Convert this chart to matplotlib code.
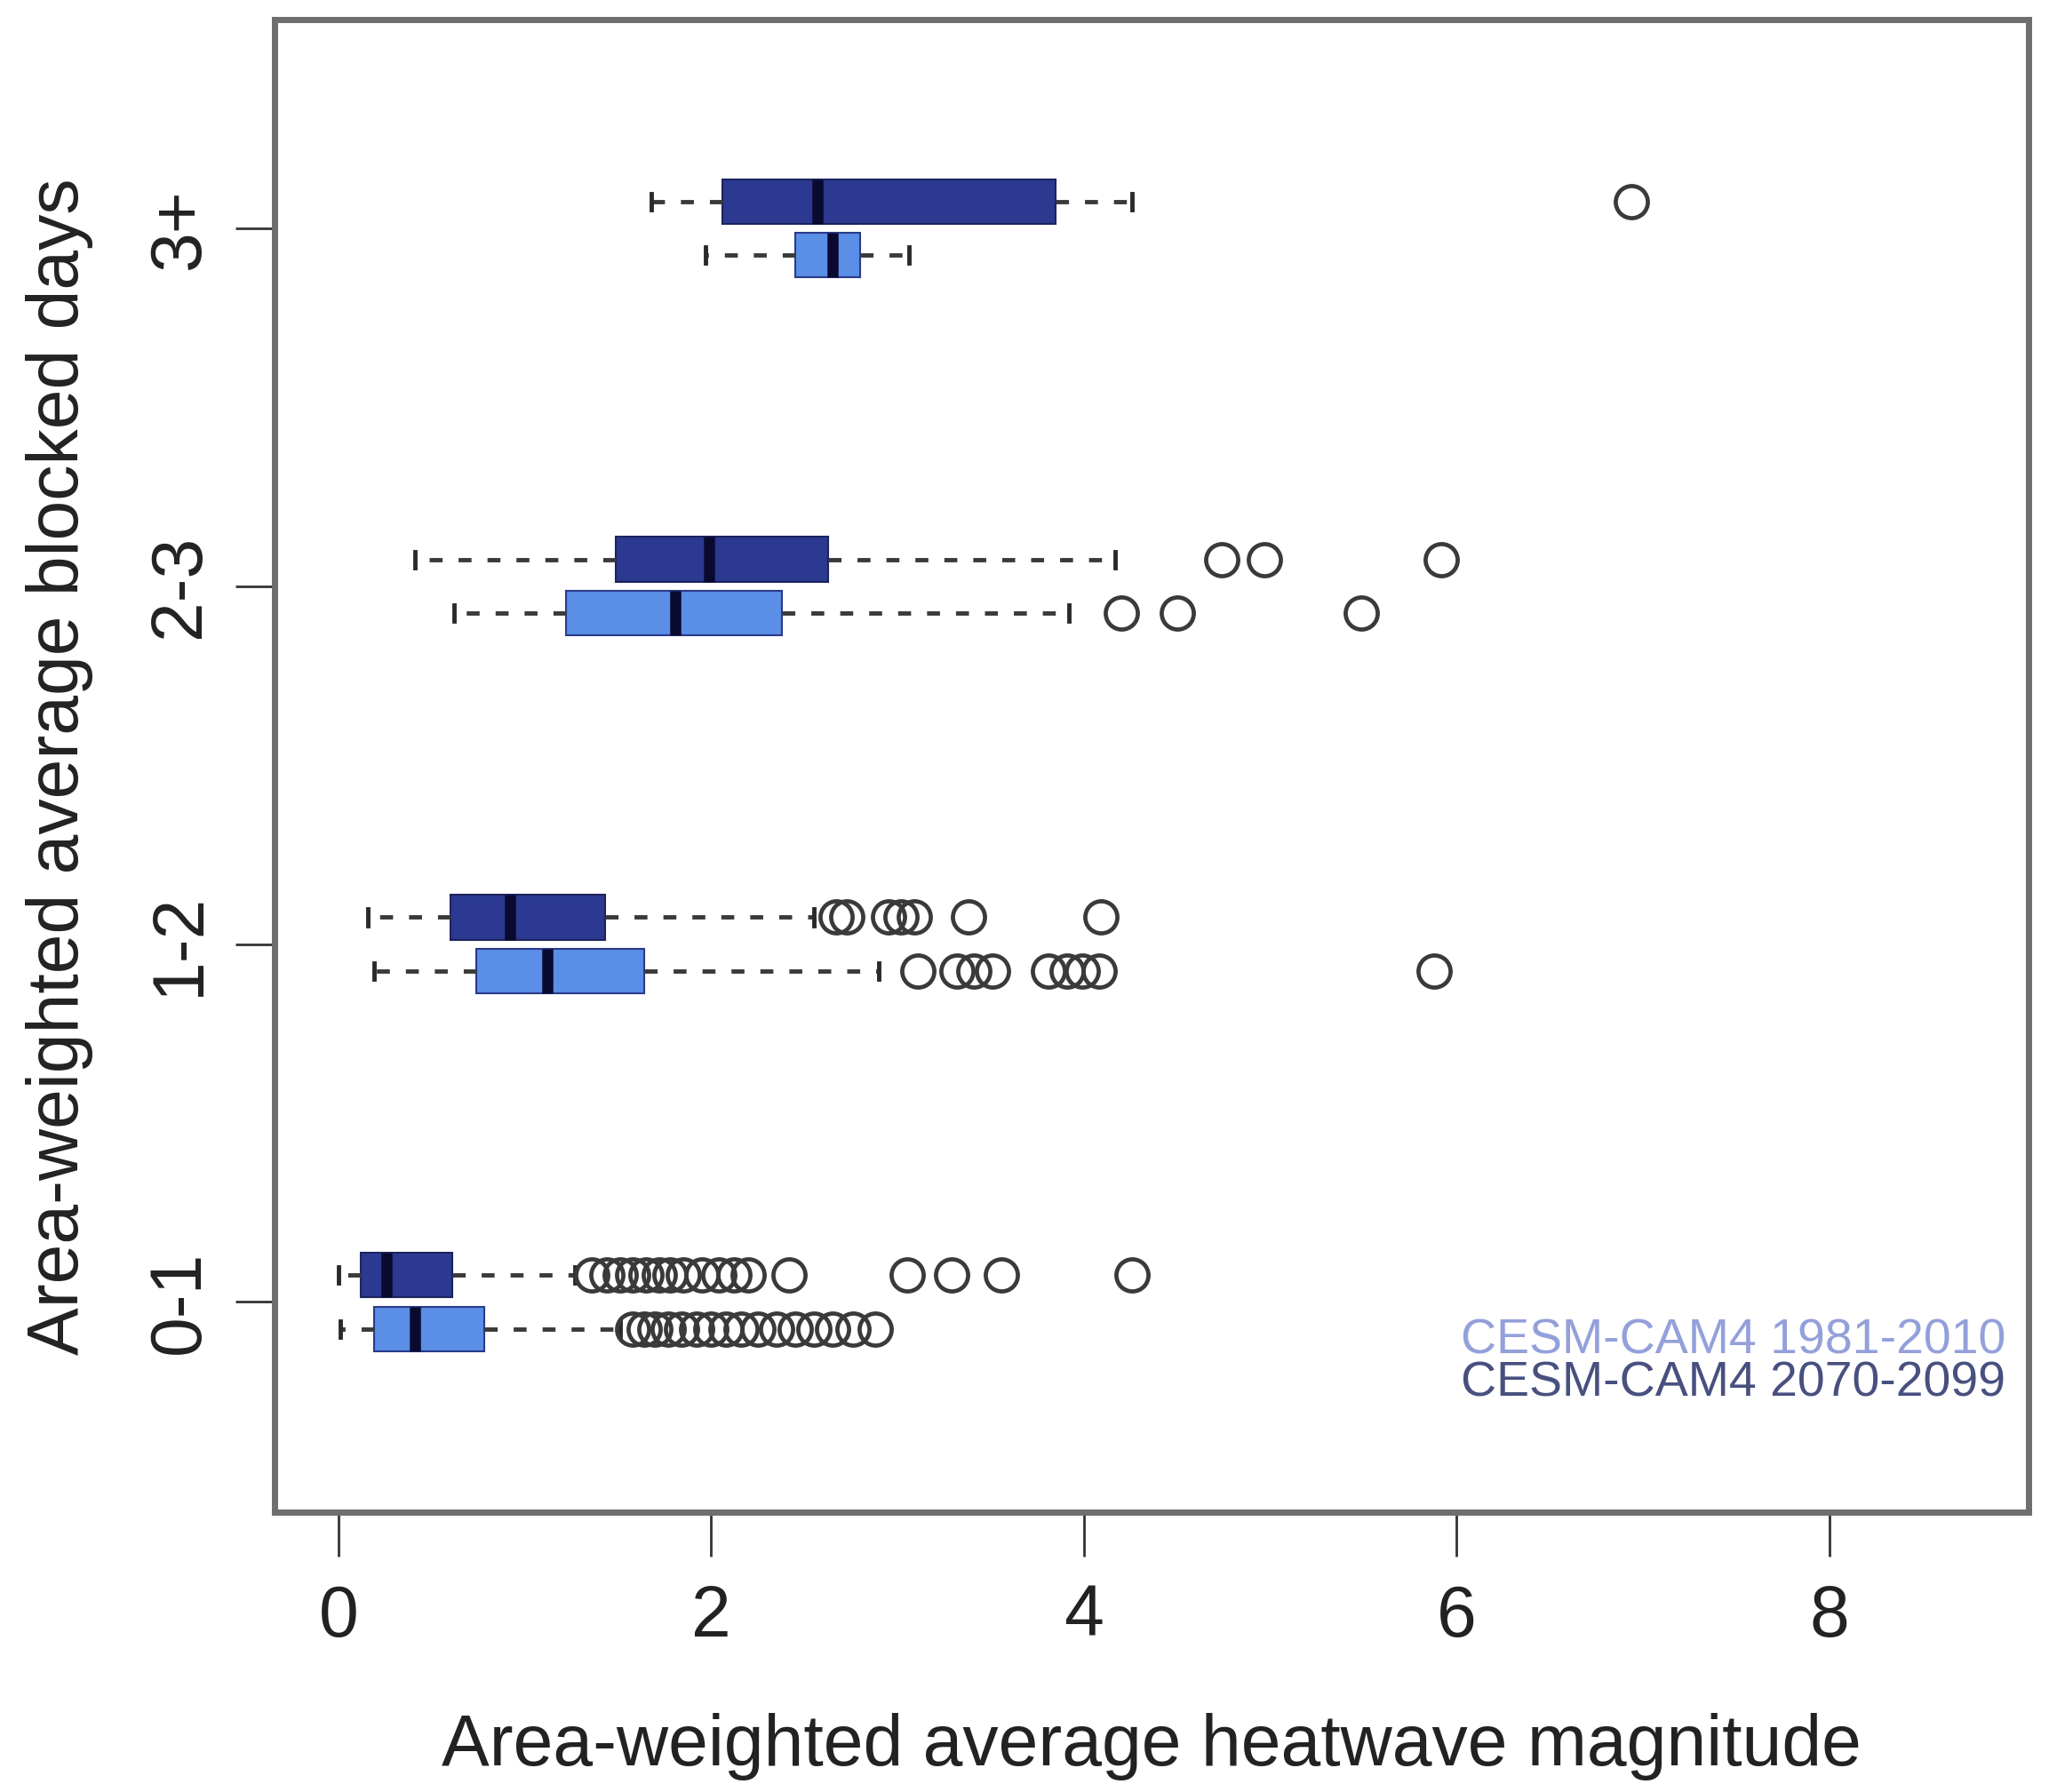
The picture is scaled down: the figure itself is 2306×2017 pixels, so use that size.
import matplotlib
matplotlib.use('Agg')
import matplotlib.pyplot as plt

plt.rcParams['font.family'] = ['Liberation Sans', 'DejaVu Sans']

categories = ['0-1', '1-2', '2-3', '3+']
cat_pos = [1, 2, 3, 4]

# CESM-CAM4 2070-2099 (dark, upper box in each group)
fut_whislo = [0.00, 0.16, 0.41, 1.68]
fut_q1 = [0.12, 0.60, 1.49, 2.06]
fut_med = [0.26, 0.92, 1.99, 2.57]
fut_q3 = [0.61, 1.43, 2.63, 3.85]
fut_whishi = [1.27, 2.55, 4.17, 4.26]
fut_fliers = [
    [1.36, 1.44, 1.51, 1.58, 1.65, 1.72, 1.78, 1.85, 1.95, 2.04, 2.12, 2.20, 2.42, 3.05, 3.29, 3.56, 4.26],
    [2.67, 2.73, 2.95, 3.02, 3.09, 3.38, 4.09],
    [4.74, 4.97, 5.92],
    [6.94],
]

# CESM-CAM4 1981-2010 (light, lower box in each group)
hist_whislo = [0.01, 0.19, 0.62, 1.97]
hist_q1 = [0.19, 0.74, 1.22, 2.45]
hist_med = [0.41, 1.12, 1.81, 2.65]
hist_q3 = [0.78, 1.64, 2.38, 2.80]
hist_whishi = [1.51, 2.90, 3.92, 3.06]
hist_fliers = [
    [1.58, 1.64, 1.70, 1.77, 1.84, 1.92, 2.00, 2.08, 2.16, 2.25, 2.35, 2.45, 2.55, 2.65, 2.76, 2.88],
    [3.11, 3.32, 3.41, 3.51, 3.81, 3.91, 3.99, 4.08, 5.88],
    [4.20, 4.50, 5.49],
    [],
]

legend_labels = ['CESM-CAM4 1981-2010', 'CESM-CAM4 2070-2099']
xticks = [0, 2, 4, 6, 8]

def make_stats(lo, q1, med, q3, hi, fl):
    return [dict(whislo=a, q1=b, med=c, q3=d, whishi=e, fliers=f)
            for a, b, c, d, e, f in zip(lo, q1, med, q3, hi, fl)]

fig = plt.figure(figsize=(23.06, 20.17), dpi=100)
ax = fig.add_axes([0.134, 0.156, 0.856, 0.833])

offset = 0.075
bw = 0.125
whisk = dict(color='#3a3a3a', linewidth=3.5, linestyle=(0, (3, 3.7)))
caps = dict(color='#2a2a2a', linewidth=3.5)
fl = dict(marker='o', markerfacecolor='none', markeredgecolor='#3a3a3a',
          markersize=26, markeredgewidth=3.4, linestyle='none')

dark = '#2b3990'
light = '#5b8ee6'

ax.bxp(make_stats(fut_whislo, fut_q1, fut_med, fut_q3, fut_whishi, fut_fliers),
       positions=[p + offset for p in cat_pos], widths=bw, orientation='horizontal',
       patch_artist=True, capwidths=0.045,
       boxprops=dict(facecolor=dark, edgecolor='#1c245e', linewidth=1.5),
       medianprops=dict(color='#0a0a30', linewidth=9, solid_capstyle='butt'),
       whiskerprops=whisk, capprops=caps, flierprops=fl)
ax.bxp(make_stats(hist_whislo, hist_q1, hist_med, hist_q3, hist_whishi, hist_fliers),
       positions=[p - offset for p in cat_pos], widths=bw, orientation='horizontal',
       patch_artist=True, capwidths=0.045,
       boxprops=dict(facecolor=light, edgecolor='#2a3a8a', linewidth=1.5),
       medianprops=dict(color='#0a0a30', linewidth=9, solid_capstyle='butt'),
       whiskerprops=whisk, capprops=caps, flierprops=fl)

ax.set_xlim(-0.343, 9.07)
ax.set_ylim(0.412, 4.583)
ax.set_xticks(xticks)
ax.set_xticklabels([str(t) for t in xticks])
ax.set_yticks(cat_pos)
ax.set_yticklabels(categories, rotation=90, va='center')

for s in ax.spines.values():
    s.set_linewidth(5)
    s.set_color('#6e6e6e')

ax.tick_params(axis='x', direction='out', length=36, width=2, color='#333333',
               labelsize=58, pad=22, labelcolor='#222222')
ax.tick_params(axis='y', direction='out', length=32, width=2, color='#333333',
               labelsize=58, pad=17, labelcolor='#222222')

ax.set_xlabel('Area-weighted average heatwave magnitude', fontsize=58, color='#222222', labelpad=50)
ax.set_ylabel('Area-weighted average blocked days', fontsize=58, color='#222222', labelpad=43)

ax.text(0.987, 0.115, legend_labels[0], transform=ax.transAxes, ha='right', va='center',
        fontsize=40, color='#93a0da')
ax.text(0.987, 0.086, legend_labels[1], transform=ax.transAxes, ha='right', va='center',
        fontsize=40, color='#48507f')

fig.savefig('out.png', dpi=100)
